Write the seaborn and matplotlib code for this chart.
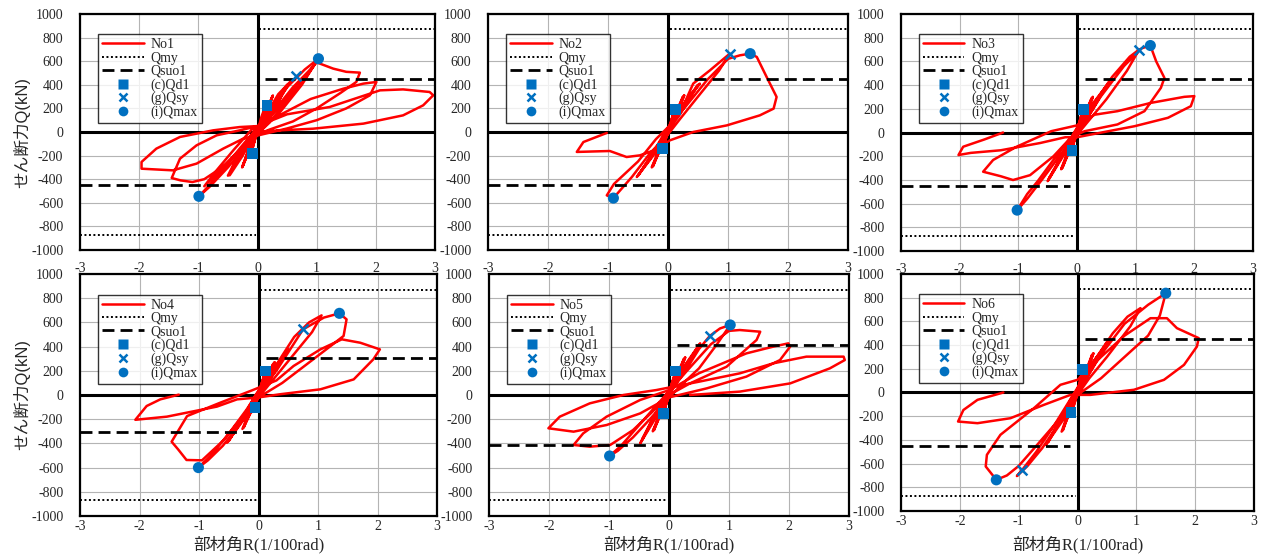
import matplotlib
matplotlib.use('Agg')
import matplotlib.pyplot as plt
import seaborn as sns
from matplotlib.lines import Line2D

# hysteresis paths R (1/100rad) / Q (kN)
R1 = [0, 0.06, 0.12, 0.05, -0.04, -0.1, -0.04, 0.05, 0.15, 0.06, -0.05, -0.12, -0.03,
      0.08, 0.25, 0.12, 0.0, -0.1, -0.25, -0.12, 0.0, 0.1, 0.26, 0.1, -0.05, -0.26, -0.1, 0.0,
      0.15, 0.35, 0.55, 0.35, 0.1, -0.05, -0.25, -0.47, -0.35, -0.1, 0.05, 0.25, 0.5, 0.3, 0.05, -0.1, -0.3, -0.5, -0.3, 0.0,
      0.2, 0.5, 0.8, 1.03, 0.8, 0.5, 0.2, 0.0, -0.2, -0.5, -0.8, -0.99, -0.85, -0.6, -0.3, 0.0,
      0.25, 0.6, 0.95, 0.75, 0.4, 0.1, -0.1, -0.5, -0.9, -0.7, -0.4, -0.1,
      0.1, 0.4, 0.75, 1.0, 1.28, 1.5, 1.73, 1.67, 1.4, 1.0, 0.6, 0.2, 0.0, -0.3, -0.6, -0.9, -1.1, -1.3, -1.45, -1.31, -1.03, -0.69, -0.3, 0.0,
      0.4, 0.9, 1.45, 1.79, 2.01, 1.9, 1.5, 1.0, 0.5, 0.0, -0.24, -0.58, -1.03, -1.43, -1.96, -1.96, -1.71, -1.31, -0.75, -0.3, 0.0,
      0.5, 1.22, 2.07, 2.46, 2.91, 2.97, 2.8, 2.46, 1.79, 0.94, 0.38, 0.1]
Q1 = [0, 120, 200, 60, -60, -170, -50, 70, 220, 60, -70, -190, -30,
      90, 300, 120, 0, -110, -290, -110, 20, 110, 310, 90, -40, -300, -80, 30,
      150, 320, 424, 260, 60, -20, -200, -367, -220, -40, 50, 220, 400, 200, 20, -60, -220, -370, -170, 40,
      170, 380, 530, 621, 450, 260, 80, -10, -120, -300, -460, -545, -470, -330, -140, 40,
      160, 380, 560, 400, 180, 30, -50, -260, -460, -330, -150, 20,
      60, 230, 440, 590, 537, 510, 503, 424, 330, 200, 90, 20, -20, -150, -300, -400, -424, -410, -390, -226, -113, -28, 14, 50,
      150, 280, 367, 410, 424, 311, 200, 100, 30, -30, -56, -141, -268, -325, -311, -254, -141, -42, 14, 42, 50,
      150, 212, 353, 361, 339, 311, 226, 141, 71, 28, 14, 5]

R2 = [0, 0.05, 0.1, 0.04, -0.05, -0.1, -0.03, 0.1, 0.02, -0.1, 0.0,
      0.1, 0.25, 0.1, -0.1, -0.25, -0.1, 0.05, 0.27, 0.05, -0.27, -0.05,
      0.2, 0.53, 0.3, 0.0, -0.2, -0.52, -0.3, 0.0, 0.25, 0.5, 0.2, -0.1, -0.5, -0.3, -0.05,
      0.2, 0.42, 0.7, 1.03, 0.85, 0.5, 0.2, 0.0, -0.3, -0.6, -0.91, -1.02, -0.9, -0.5, -0.2, 0.0,
      0.3, 0.65, 1.0, 1.2, 1.37, 1.48, 1.65, 1.81, 1.76, 1.53, 0.98, 0.42, 0.03, -0.2, -0.47, -0.69, -0.97, -1.25, -1.52, -1.41, -1.02]
Q2 = [0, 80, 180, 50, -60, -140, -30, 170, 20, -150, 0,
      130, 300, 100, -110, -290, -90, 40, 310, 40, -300, -20,
      200, 410, 260, 30, -170, -381, -230, 20, 230, 400, 150, -60, -370, -220, 0,
      160, 410, 523, 664, 520, 300, 110, -20, -180, -380, -560, -537, -440, -250, -60, 40,
      220, 440, 620, 650, 664, 636, 460, 297, 198, 141, 56, 0, -71, -150, -198, -212, -161, -165, -169, -85, -8]

R3 = [0, 0.05, 0.1, 0.04, -0.05, -0.1, -0.03, 0.1, 0.02, -0.1, 0.0,
      0.1, 0.25, 0.1, -0.1, -0.25, -0.1, 0.05, 0.27, 0.05, -0.27, -0.05,
      0.2, 0.52, 0.3, 0.0, -0.2, -0.5, -0.3, 0.0, 0.25, 0.5, 0.2, -0.1, -0.48, -0.3, -0.05,
      0.3, 0.6, 0.9, 1.06, 0.85, 0.5, 0.2, 0.0, -0.3, -0.6, -0.85, -1.02, -0.85, -0.67, -0.4, -0.1, 0.1,
      0.4, 0.8, 1.1, 1.25, 1.35, 1.49, 1.43, 1.15, 0.69, 0.13, -0.1,
      -0.4, -0.8, -1.09, -1.3, -1.6, -1.43, -1.03, -0.44, 0.0,
      0.3, 0.69, 1.26, 1.83, 2.0, 1.94, 1.55, 0.98, 0.24, 0.0,
      -0.2, -0.63, -1.3, -1.81, -2.02, -1.94, -1.58, -1.26]
Q3 = [0, 100, 200, 50, -70, -150, -30, 190, 20, -150, 0,
      120, 290, 90, -120, -300, -90, 40, 300, 40, -310, -20,
      200, 405, 250, 40, -170, -410, -240, 20, 220, 390, 140, -70, -390, -230, 0,
      250, 470, 640, 700, 520, 280, 100, -20, -200, -400, -560, -655, -520, -411, -230, -40, 60,
      300, 560, 710, 734, 600, 461, 377, 180, 68, 11, -40,
      -200, -360, -401, -369, -331, -232, -120, 11, 60,
      150, 180, 250, 301, 307, 222, 124, 53, -17, -40,
      -40, -89, -150, -172, -190, -120, -59, 0]

R4 = [0, 0.05, 0.12, 0.04, -0.05, -0.08, -0.03, 0.1, 0.02, -0.1, 0.0,
      0.1, 0.25, 0.1, -0.1, -0.25, -0.1, 0.05, 0.27, 0.05, -0.27, -0.05,
      0.2, 0.5, 0.3, 0.0, -0.2, -0.53, -0.3, 0.0, 0.25, 0.48, 0.2, -0.1, -0.5, -0.3, -0.05,
      0.3, 0.6, 0.85, 1.06, 0.9, 0.5, 0.2, 0.0, -0.3, -0.6, -0.85, -1.01, -0.8, -0.5, -0.2, 0.0,
      0.3, 0.75, 1.1, 1.36, 1.48, 1.43, 1.2, 0.8, 0.4, 0.0,
      -0.3, -0.6, -0.95, -1.21, -1.35, -1.46, -1.2, -0.64, -0.1,
      0.3, 0.59, 1.04, 1.4, 1.71, 2.04, 1.93, 1.6, 1.04, 0.36, 0.0,
      -0.36, -0.7, -1.54, -2.07, -1.88, -1.65, -1.34]
Q4 = [0, 90, 190, 50, -60, -110, -30, 170, 20, -140, 0,
      110, 260, 80, -110, -270, -80, 30, 270, 30, -280, -20,
      180, 377, 230, 30, -170, -394, -230, 20, 200, 360, 130, -60, -380, -220, 0,
      250, 480, 600, 658, 520, 280, 100, -20, -230, -420, -540, -600, -500, -320, -120, 30,
      200, 543, 640, 675, 625, 488, 400, 250, 100, -20,
      -200, -380, -540, -537, -450, -386, -174, -63, 40,
      120, 240, 377, 460, 432, 377, 295, 129, 47, 6, -20,
      -36, -96, -179, -205, -91, -36, 3]

R5 = [0, 0.05, 0.12, 0.04, -0.05, -0.08, -0.03, 0.1, 0.02, -0.1, 0.0,
      0.1, 0.25, 0.1, -0.1, -0.25, -0.1, 0.05, 0.27, 0.05, -0.27, -0.05,
      0.2, 0.52, 0.3, 0.0, -0.2, -0.48, -0.3, 0.0, 0.25, 0.5, 0.2, -0.1, -0.45, -0.3, -0.05,
      0.3, 0.5, 0.68, 0.85, 1.02, 0.8, 0.5, 0.2, 0.0, -0.3, -0.6, -0.85, -0.99, -0.8, -0.5, -0.2, 0.0,
      0.3, 0.7, 1.0, 1.18, 1.52, 1.46, 0.96, 0.35, 0.0,
      -0.3, -0.6, -0.98, -1.32, -1.59, -1.43, -1.04, -0.48, 0.0,
      0.5, 1.29, 1.74, 1.99, 2.02, 1.85, 1.29, 0.63, 0.0,
      -0.48, -1.04, -1.59, -2.01, -1.82, -1.32, -0.76, -0.21,
      0.5, 1.18, 1.74, 2.29, 2.91, 2.93, 2.68, 2.02, 1.18, 0.35]
Q5 = [0, 100, 195, 50, -70, -150, -30, 180, 20, -150, 0,
      130, 300, 100, -110, -290, -90, 40, 310, 40, -300, -20,
      200, 427, 260, 30, -170, -400, -230, 20, 230, 400, 150, -60, -370, -220, 0,
      220, 380, 488, 550, 579, 420, 220, 80, -20, -190, -350, -460, -504, -420, -250, -80, 30,
      200, 420, 530, 537, 523, 455, 234, 96, 0,
      -150, -290, -413, -427, -413, -317, -179, -41, 40,
      180, 344, 400, 427, 400, 289, 152, 55, -20,
      -152, -248, -303, -275, -179, -69, 0, 41,
      110, 179, 262, 317, 317, 289, 220, 96, 28, 0]

R6 = [0, 0.05, 0.08, 0.04, -0.05, -0.1, -0.03, 0.1, 0.02, -0.1, 0.0,
      0.1, 0.25, 0.1, -0.1, -0.25, -0.1, 0.05, 0.27, 0.05, -0.27, -0.05,
      0.2, 0.56, 0.3, 0.0, -0.2, -0.54, -0.3, 0.0, 0.25, 0.5, 0.2, -0.1, -0.5, -0.3, -0.05,
      0.3, 0.6, 0.85, 1.07, 0.9, 0.5, 0.2, 0.0, -0.3, -0.6, -0.85, -1.03, -0.94, -0.7, -0.4, -0.1, 0.1,
      0.4, 0.8, 1.2, 1.5, 1.4, 1.2, 0.8, 0.4, 0.0,
      -0.3, -0.7, -1.0, -1.2, -1.38, -1.56, -1.54, -1.31, -0.74, -0.29, 0.0,
      0.4, 0.8, 1.24, 1.52, 1.69, 2.06, 2.03, 1.81, 1.47, 0.96, 0.22,
      -0.12, -0.57, -1.14, -1.7, -2.03, -1.94, -1.7, -1.26]
Q6 = [0, 110, 195, 50, -70, -160, -30, 190, 20, -170, 0,
      130, 320, 100, -120, -320, -90, 40, 330, 40, -330, -20,
      220, 444, 260, 30, -200, -442, -250, 20, 240, 420, 160, -70, -420, -230, 0,
      280, 500, 640, 712, 560, 300, 120, -20, -250, -470, -620, -705, -653, -500, -280, -40, 80,
      320, 580, 740, 838, 650, 480, 300, 120, -20,
      -220, -450, -620, -700, -737, -624, -526, -357, -132, 65, 107,
      300, 480, 627, 627, 543, 459, 388, 233, 107, 23, -20,
      -20, -104, -217, -259, -245, -148, -62, 0]

SPECIMENS = ['No1', 'No2', 'No3', 'No4', 'No5', 'No6']
R_DATA = [R1, R2, R3, R4, R5, R6]
Q_DATA = [Q1, Q2, Q3, Q4, Q5, Q6]

QMY = [870, 870, 870, 870, 870, 870]
QSUO1 = [445, 448, 450, 306, 410, 450]

QD1_R = [[0.16, -0.09], [0.12, -0.09], [0.11, -0.085], [0.12, -0.06], [0.11, -0.09], [0.08, -0.11]]
QD1_Q = [[222, -183], [192, -141], [194, -149], [198, -105], [198, -152], [191, -166]]
QSY_R = [0.65, 1.03, 1.06, 0.75, 0.68, -0.94]
QSY_Q = [476, 664, 700, 543, 488, -653]
QMAX_R = [[1.03, -0.99], [1.37, -0.91], [1.25, -1.02], [1.36, -1.01], [1.02, -0.99], [1.5, -1.38]]
QMAX_Q = [[621, -545], [664, -560], [734, -655], [675, -600], [579, -504], [838, -737]]

# axes boxes in pixels (left, top, right, bottom)
BOXES = [(80, 14, 435, 250), (488, 14, 848, 250), (901, 14, 1253, 251),
         (80, 274, 437, 516), (489, 274, 849, 516), (901, 274, 1254, 511)]
W, H = 1263, 556
BLUE = '#0070C0'
SERIF = ['Liberation Serif', 'Noto Sans CJK JP']

sns.set_style('white')
plt.rcParams['font.family'] = SERIF
plt.rcParams['axes.unicode_minus'] = False

fig = plt.figure(figsize=(W / 100, H / 100), dpi=100)

for i in range(6):
    l, t, r, b = BOXES[i]
    ax = fig.add_axes([l / W, 1 - b / H, (r - l) / W, (b - t) / H])
    ax.set_xlim(-3, 3)
    ax.set_ylim(-1000, 1000)
    ax.set_xticks(range(-3, 4))
    ax.set_yticks(range(-1000, 1001, 200))
    ax.grid(True, color='#b4b4b4', lw=0.8, zorder=0)
    ax.set_axisbelow(True)
    for s in ax.spines.values():
        s.set_color('black')
        s.set_linewidth(1.6)
    ax.axhline(0, color='black', lw=2.2, zorder=1)
    ax.axvline(0, color='black', lw=2.2, zorder=1)
    top_row = i < 3
    ax.tick_params(axis='x', length=0, pad=8.5 if top_row else 3, labelsize=10)
    ax.tick_params(axis='y', length=0, pad=12, labelsize=10)

    sns.lineplot(x=R_DATA[i], y=Q_DATA[i], sort=False, estimator=None,
                 color='#ff0000', linewidth=1.8, ax=ax, zorder=2)

    ax.hlines(QMY[i], 0.03, 3, colors='black', linestyles=(0, (1, 1.3)), lw=1.4, zorder=3)
    ax.hlines(-QMY[i], -3, -0.03, colors='black', linestyles=(0, (1, 1.3)), lw=1.4, zorder=3)
    ax.hlines(QSUO1[i], 0.13, 3, colors='black', linestyles=(0, (4.3, 2.2)), lw=2, zorder=3)
    ax.hlines(-QSUO1[i], -3, -0.12, colors='black', linestyles=(0, (4.3, 2.2)), lw=2, zorder=3)

    sns.scatterplot(x=QD1_R[i], y=QD1_Q[i], marker='s', s=60, color=BLUE,
                    edgecolor='none', ax=ax, zorder=4)
    sns.scatterplot(x=[QSY_R[i]], y=[QSY_Q[i]], marker='x', s=50, color=BLUE,
                    linewidth=1.8, ax=ax, zorder=4)
    sns.scatterplot(x=QMAX_R[i], y=QMAX_Q[i], marker='o', s=64, color=BLUE,
                    edgecolor='none', ax=ax, zorder=4)

    handles = [
        Line2D([], [], color='#ff0000', lw=1.8),
        Line2D([], [], color='black', lw=1.4, ls=(0, (1, 1.3))),
        Line2D([], [], color='black', lw=2, ls=(0, (4.3, 2.2))),
        Line2D([], [], color=BLUE, marker='s', ls='none', ms=7, mec='none'),
        Line2D([], [], color=BLUE, marker='x', ls='none', ms=6, mew=1.8),
        Line2D([], [], color=BLUE, marker='o', ls='none', ms=7, mec='none'),
    ]
    labels = [SPECIMENS[i], 'Qmy', 'Qsuo1', '(c)Qd1', '(g)Qsy', '(i)Qmax']
    leg = ax.legend(handles, labels, loc='upper left', bbox_to_anchor=(0.05, 0.915),
                    borderaxespad=0, fontsize=10, handlelength=3.0, handletextpad=0.5,
                    labelspacing=0.02, borderpad=0.3, frameon=True, fancybox=False)
    leg.get_frame().set_edgecolor('black')
    leg.get_frame().set_linewidth(1.0)
    leg.set_zorder(5)

    ax.set_xlabel('')
    ax.set_ylabel('')
    if i in (0, 3):
        ax.set_ylabel('せん断力Q(kN)', fontsize=12, family=['Liberation Sans', 'Noto Sans CJK JP'])
        ax.yaxis.set_label_coords((22 - l) / (r - l), 0.5)
        ax.yaxis.label.set_va('center')
    if not top_row:
        ax.set_xlabel('部材角R(1/100rad)', fontsize=12, family=SERIF)
        ax.xaxis.set_label_coords(0.5, (b - 545) / (b - t))
        ax.xaxis.label.set_va('center')

fig.savefig('out.png', dpi=100)
